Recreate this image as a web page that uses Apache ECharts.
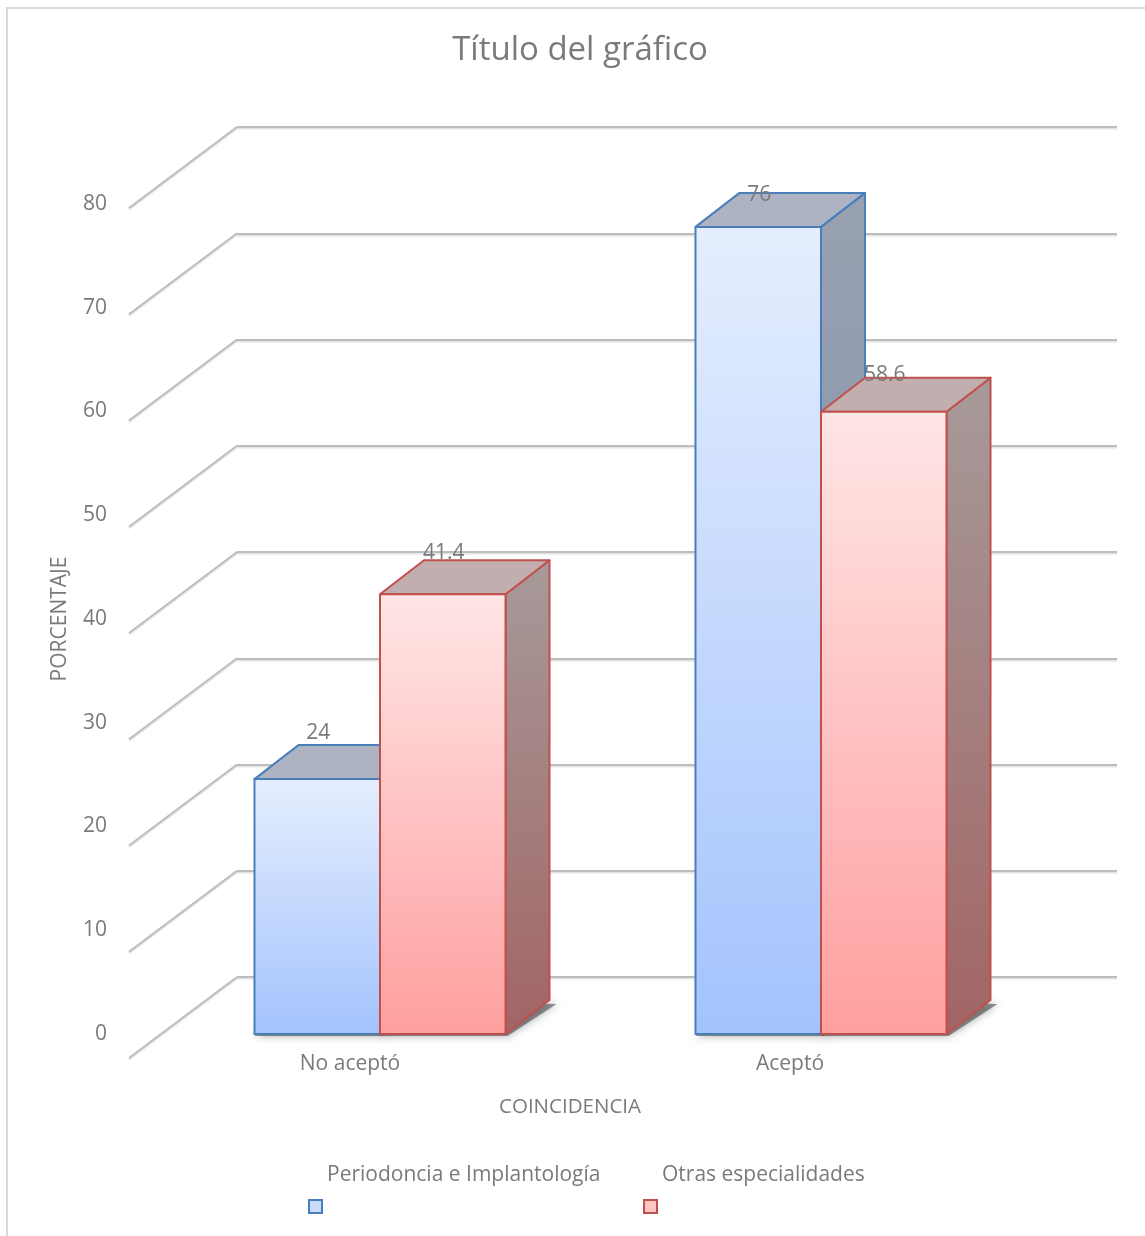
<!DOCTYPE html>
<html>
<head>
<meta charset="utf-8">
<title>Título del gráfico</title>
<script src="https://cdn.jsdelivr.net/npm/echarts@6/dist/echarts.min.js"></script>
<style>
  html, body { margin: 0; padding: 0; background: #ffffff; }
  #chart { width: 1145px; height: 1236px; }
</style>
</head>
<body>
<div id="chart"></div>
<script>
// ---- data ----
const categories = ['No aceptó', 'Aceptó'];
const seriesNames = ['Periodoncia e Implantología', 'Otras especialidades'];
const periodoncia = [24, 76];
const otras = [41.4, 58.6];
const gridValues = [0, 10, 20, 30, 40, 50, 60, 70, 80];

// ---- look ----
const FONT = '"Open Sans", "Liberation Sans", sans-serif';
const TEXT = '#7a7a7a';
const DEPTH_X = 44, DEPTH_Y = -34;       // bar depth projection
const WALL_X = -108, WALL_Y = 81;        // side-wall projection of gridlines
const BAR_FRAC = 0.2846;                 // bar width as share of a category band
const LABEL_SCALE = 0.9746, LABEL_LIFT = 52.5; // value labels sit on a plane slightly behind the bars

const palette = [
  { front: ['#e5eefe', '#a3c3fd'], top: '#adb3c2', side: ['#98a1b1', '#7b8ca9'], border: '#4a7ebb', legend: '#c8dbfb' },
  { front: ['#ffe6e6', '#ff9f9f'], top: '#c2aeae', side: ['#a79a9a', '#a26464'], border: '#c0504d', legend: '#ffc4c4' }
];

function grad(c) {
  return new echarts.graphic.LinearGradient(0, 0, 0, 1, [
    { offset: 0, color: c[0] }, { offset: 1, color: c[1] }
  ]);
}

function barRenderer(idx) {
  const pal = palette[idx];
  return function (params, api) {
    const v = api.value(1);
    const top = api.coord([api.value(0), v]);
    const base = api.coord([api.value(0), 0]);
    const w = api.size([1, 0])[0] * BAR_FRAC;
    const x0 = idx === 0 ? top[0] - w : top[0];
    const x1 = x0 + w;
    const yt = top[1], yb = base[1];
    const stroke = { stroke: pal.border, lineWidth: 2, lineJoin: 'round' };
    return {
      type: 'group',
      children: [
        { // soft floor shadow
          type: 'polygon',
          shape: { points: [[x0, yb + 2], [x1 + 2, yb + 2], [x1 + DEPTH_X + 7, yb + DEPTH_Y + 4], [x0 + DEPTH_X, yb + DEPTH_Y]] },
          style: { fill: 'rgba(60,60,60,0.55)', shadowBlur: 9, shadowColor: 'rgba(0,0,0,0.6)' }
        },
        {
          type: 'polygon',
          shape: { points: [[x1, yt], [x1 + DEPTH_X, yt + DEPTH_Y], [x1 + DEPTH_X, yb + DEPTH_Y], [x1, yb]] },
          style: Object.assign({ fill: grad(pal.side) }, stroke)
        },
        {
          type: 'polygon',
          shape: { points: [[x0, yt], [x1, yt], [x1 + DEPTH_X, yt + DEPTH_Y], [x0 + DEPTH_X, yt + DEPTH_Y]] },
          style: Object.assign({ fill: pal.top }, stroke)
        },
        {
          type: 'rect',
          shape: { x: x0, y: yt, width: w, height: yb - yt },
          style: Object.assign({ fill: grad(pal.front) }, stroke)
        },
        {
          type: 'text',
          style: {
            text: String(v), x: (x0 + x1) / 2 + 1,
            y: yb - LABEL_LIFT + (yt - yb) * LABEL_SCALE,
            align: 'center', verticalAlign: 'middle',
            fill: TEXT, font: '21px ' + FONT
          }
        }
      ]
    };
  };
}

const chart = echarts.init(document.getElementById('chart'), null, { renderer: 'canvas' });

const legendBase = {
  icon: 'rect', itemWidth: 13, itemHeight: 13, top: 1160,
  textStyle: {
    rich: { t: { color: TEXT, fontSize: 21, fontFamily: FONT, padding: [0, 0, 62, 0] } }
  },
  formatter: n => '{t|' + n + '}'
};

chart.setOption({
  backgroundColor: '#ffffff',
  animation: false,
  title: {
    text: 'Título del gráfico', left: 575, top: 29, textAlign: 'center',
    textStyle: { color: TEXT, fontSize: 33, fontWeight: 'normal', fontFamily: FONT }
  },
  graphic: [{
    type: 'rect', shape: { x: 7, y: 8, width: 1160, height: 1260 },
    style: { fill: 'none', stroke: '#d9d9d9', lineWidth: 2 }, silent: true
  }],
  legend: [
    Object.assign({}, legendBase, { left: 303, data: [{ name: seriesNames[0], itemStyle: { color: palette[0].legend, borderColor: palette[0].border, borderWidth: 2 } }] }),
    Object.assign({}, legendBase, { left: 638, data: [{ name: seriesNames[1], itemStyle: { color: palette[1].legend, borderColor: palette[1].border, borderWidth: 2 } }] })
  ],
  grid: [
    // back wall
    { left: 237, top: 127, width: 880, height: 850 },
    // front plane of the bars
    { left: 159.5, top: 184.4, width: 882, height: 849.6 },
    // value labels along the side wall
    { left: 120, top: 204, width: 10, height: 830 },
    // category labels on the floor edge
    { left: 130, top: 1000, width: 880, height: 48 }
  ],
  xAxis: [
    { gridIndex: 0, type: 'value', min: 0, max: 1, show: false },
    { gridIndex: 1, type: 'category', data: categories, show: false },
    { gridIndex: 2, type: 'value', min: 0, max: 1, show: false },
    {
      gridIndex: 3, type: 'category', data: categories,
      axisLine: { show: false }, axisTick: { show: false },
      axisLabel: { margin: 6, color: TEXT, fontSize: 21, fontFamily: FONT },
      name: 'COINCIDENCIA', nameLocation: 'middle', nameGap: 49,
      nameTextStyle: { color: TEXT, fontSize: 20.5, fontFamily: FONT }
    }
  ],
  yAxis: [
    {
      gridIndex: 0, type: 'value', min: 0, max: 80, interval: 10,
      axisLine: { show: false }, axisTick: { show: false }, axisLabel: { show: false },
      splitLine: { lineStyle: { color: '#bdbdbd', width: 2, shadowColor: 'rgba(0,0,0,0.12)', shadowOffsetY: 1.5, shadowBlur: 1 } }
    },
    { gridIndex: 1, type: 'value', min: 0, max: 80, show: false },
    {
      gridIndex: 2, type: 'value', min: 0, max: 80, interval: 10,
      axisLine: { show: false }, axisTick: { show: false }, splitLine: { show: false },
      axisLabel: { margin: 13, color: TEXT, fontSize: 21, fontFamily: FONT },
      name: 'PORCENTAJE', nameLocation: 'middle', nameGap: 49, nameRotate: 90,
      nameTextStyle: { color: TEXT, fontSize: 21, fontFamily: FONT }
    },
    { gridIndex: 3, type: 'value', show: false }
  ],
  series: [
    { // gridlines running along the side wall
      type: 'custom', xAxisIndex: 0, yAxisIndex: 0, silent: true,
      data: gridValues.map(v => [0, v]),
      renderItem: function (params, api) {
        const p = api.coord([0, api.value(1)]);
        return {
          type: 'line',
          shape: { x1: p[0], y1: p[1], x2: p[0] + WALL_X, y2: p[1] + WALL_Y },
          style: { stroke: '#bdbdbd', lineWidth: 2, shadowColor: 'rgba(0,0,0,0.12)', shadowOffsetY: 1.5, shadowBlur: 1 }
        };
      }
    },
    {
      name: seriesNames[0], type: 'custom', xAxisIndex: 1, yAxisIndex: 1,
      itemStyle: { color: palette[0].legend },
      data: periodoncia.map((v, i) => [i, v]),
      renderItem: barRenderer(0)
    },
    {
      name: seriesNames[1], type: 'custom', xAxisIndex: 1, yAxisIndex: 1,
      itemStyle: { color: palette[1].legend },
      data: otras.map((v, i) => [i, v]),
      renderItem: barRenderer(1)
    }
  ]
});
</script>
</body>
</html>
